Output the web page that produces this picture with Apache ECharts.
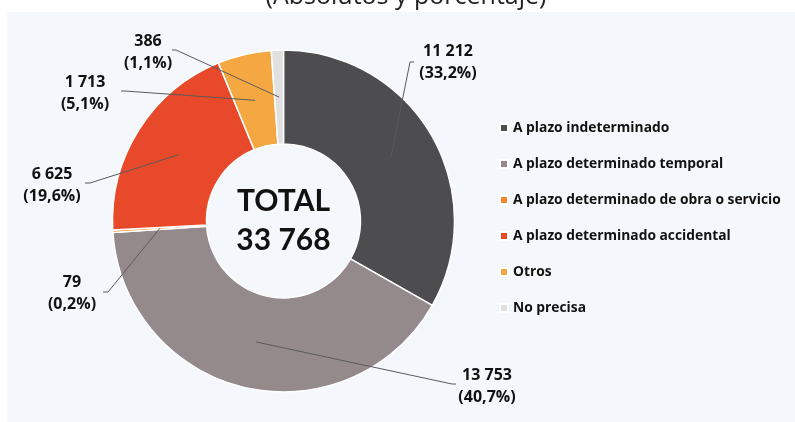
<!DOCTYPE html>
<html lang="es" style="height: 100%">
<head>
  <meta charset="utf-8">
</head>
<body style="height: 100%; margin: 0; background: #ffffff">
  <div id="container" style="width: 795px; height: 422px"></div>

  <script type="text/javascript" src="https://cdn.jsdelivr.net/npm/echarts@6/dist/echarts.min.js"></script>

  <script type="text/javascript">
    var categories = [
      'A plazo indeterminado',
      'A plazo determinado temporal',
      'A plazo determinado de obra o servicio',
      'A plazo determinado accidental',
      'Otros',
      'No precisa'
    ];
    var values = [11212, 13753, 79, 6625, 1713, 386];
    var colors = ['#4d4d4f', '#948a8c', '#f28a2b', '#e8492a', '#f5a742', '#e0e0e0'];

    // label centre [x, y], then leader line elbow and end
    var labelSpots = [
      [448, 62, 410, 62, 414, 62],
      [487, 386, 452, 384, 456, 384],
      [72, 293, 108, 292, 103, 292],
      [52, 185, 90, 183, 85, 183],
      [85, 93, 125, 91, 121, 91],
      [148, 52, 176, 50, 172, 50]
    ];

    var cx = 283.5, cy = 221, rIn = 77, rOut = 171, rLine = 124;
    var font = '"Open Sans", sans-serif';

    var total = values.reduce(function (a, b) { return a + b; }, 0);

    function fmt(v) {
      return String(v).replace(/\B(?=(\d{3})+(?!\d))/g, ' ');
    }
    function pct(v) {
      return (v / total * 100).toFixed(1).replace('.', ',') + '%';
    }
    function midAngle(i) {
      var before = 0;
      for (var k = 0; k < i; k++) before += values[k];
      return (before + values[i] / 2) / total * Math.PI * 2;
    }

    // leader lines start inside each slice, at its middle angle
    var leaders = labelSpots.map(function (s, i) {
      var a = midAngle(i);
      return {
        type: 'polyline', z: 100, silent: true,
        shape: { points: [[cx + rLine * Math.sin(a), cy - rLine * Math.cos(a)], [s[2], s[3]], [s[4], s[5]]] },
        style: { stroke: '#5a5a5a', lineWidth: 1, fill: null }
      };
    });

    var dom = document.getElementById('container');
    var myChart = echarts.init(dom, null, { renderer: 'canvas' });

    var option = {
      animation: false,
      color: colors,
      graphic: [
        {
          type: 'rect', z: -10, silent: true,
          shape: { x: 7, y: 12, width: 800, height: 420 },
          style: { fill: '#f4f7fb' }
        },
        {
          type: 'text', z: -5, silent: true,
          x: 406, y: -3.5,
          style: {
            text: '(Absolutos y porcentaje)',
            align: 'center', verticalAlign: 'middle',
            font: '25px ' + font,
            fill: '#222'
          }
        },
        {
          type: 'text', z: 10, silent: true,
          x: cx, y: cy,
          style: {
            text: 'TOTAL\n' + fmt(total),
            align: 'center', verticalAlign: 'middle',
            font: 'bold 30px Lato, sans-serif',
            lineHeight: 39,
            fill: '#111'
          }
        }
      ].concat(leaders),
      legend: {
        orient: 'vertical',
        left: 499,
        top: 120,
        padding: 0,
        itemWidth: 8,
        itemHeight: 8,
        itemGap: 20,
        icon: 'rect',
        selectedMode: false,
        data: categories,
        textStyle: { fontFamily: font, fontSize: 13.8, fontWeight: 'bold', color: '#111', lineHeight: 16 }
      },
      series: [
        {
          type: 'pie',
          center: [cx, cy],
          radius: [rIn, rOut],
          startAngle: 90,
          clockwise: true,
          avoidLabelOverlap: false,
          itemStyle: { borderColor: '#ffffff', borderWidth: 1.5 },
          label: {
            show: true,
            position: 'outside',
            fontFamily: font,
            fontSize: 16,
            fontWeight: 'bold',
            color: '#111',
            lineHeight: 22,
            formatter: function (p) {
              return fmt(p.value) + '\n(' + pct(p.value) + ')';
            }
          },
          labelLine: { show: false },
          labelLayout: function (p) {
            var s = labelSpots[p.dataIndex];
            return { x: s[0], y: s[1], align: 'center', verticalAlign: 'middle' };
          },
          emphasis: { disabled: true },
          data: categories.map(function (c, i) {
            return { name: c, value: values[i] };
          })
        }
      ]
    };

    myChart.setOption(option);
    window.addEventListener('resize', myChart.resize);
  </script>
</body>
</html>
